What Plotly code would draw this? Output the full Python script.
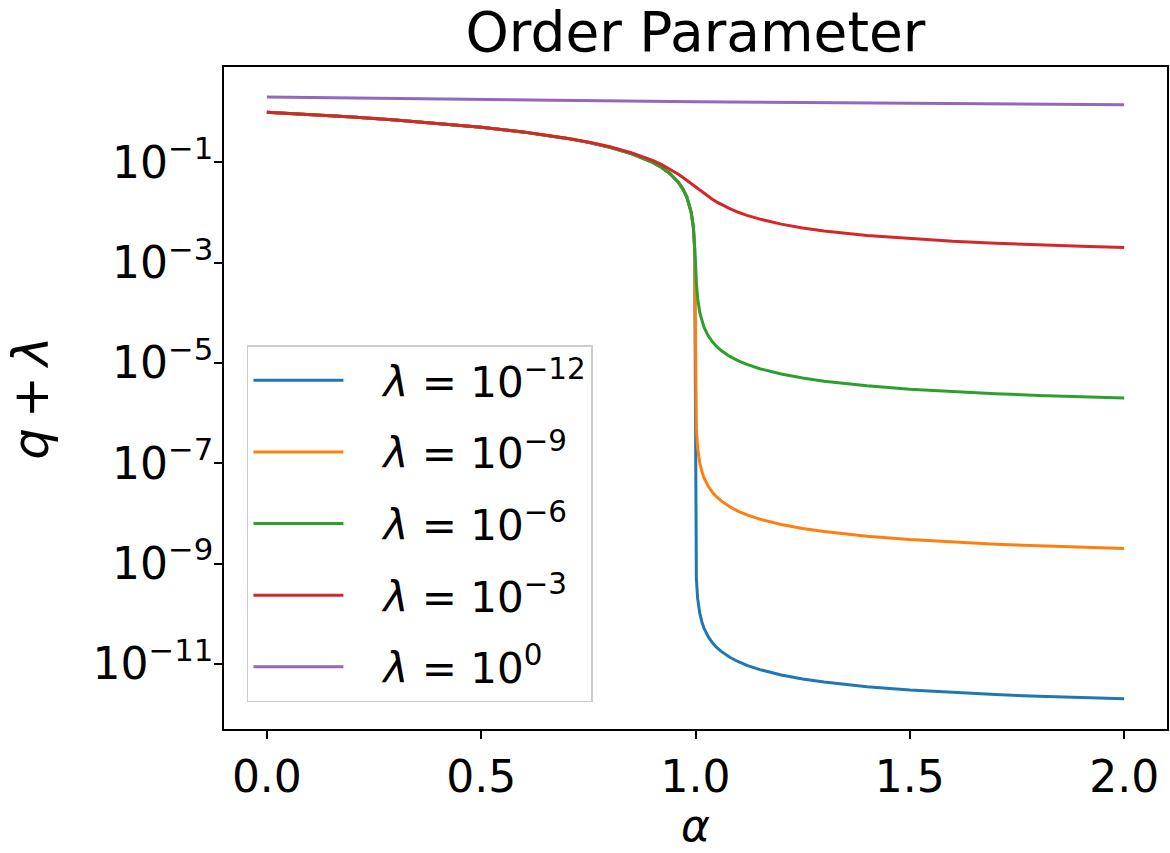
import plotly.graph_objects as go

# ---- data ----
alpha = [0, 0.1, 0.2, 0.3, 0.4, 0.5, 0.6, 0.7, 0.75, 0.8, 0.85, 0.9, 0.92, 0.94,
         0.96, 0.97, 0.98, 0.99, 0.995, 0.998, 1.0, 1.002, 1.005, 1.01, 1.015,
         1.02, 1.03, 1.04, 1.05, 1.06, 1.08, 1.1, 1.12, 1.15, 1.2, 1.25, 1.3,
         1.4, 1.5, 1.6, 1.7, 1.8, 1.9, 2.0]

q_lam_1e12 = [1.0, 0.9, 0.8, 0.7, 0.6, 0.5, 0.4, 0.3, 0.25, 0.2, 0.15, 0.1, 0.08, 0.06,
              0.04, 0.03, 0.02, 0.01, 0.005, 0.002, 1.0e-6, 5.01e-10, 2.01e-10, 1.01e-10, 6.77e-11,
              5.1e-11, 3.43e-11, 2.6e-11, 2.1e-11, 1.77e-11, 1.35e-11, 1.1e-11, 9.33e-12, 7.67e-12, 6.0e-12, 5.0e-12, 4.33e-12,
              3.5e-12, 3.0e-12, 2.67e-12, 2.43e-12, 2.25e-12, 2.11e-12, 2.0e-12]

q_lam_1e9 = [1.0, 0.9, 0.8, 0.7, 0.6, 0.5, 0.4, 0.3, 0.25, 0.2, 0.15, 0.1, 0.08, 0.06,
             0.04, 0.03, 0.02, 0.01, 0.005, 0.002, 3.16e-5, 5.01e-7, 2.01e-7, 1.01e-7, 6.77e-8,
             5.1e-8, 3.43e-8, 2.6e-8, 2.1e-8, 1.77e-8, 1.35e-8, 1.1e-8, 9.33e-9, 7.67e-9, 6.0e-9, 5.0e-9, 4.33e-9,
             3.5e-9, 3.0e-9, 2.67e-9, 2.43e-9, 2.25e-9, 2.11e-9, 2.0e-9]

q_lam_1e6 = [1.0, 0.9, 0.8, 0.7, 0.6, 0.5, 0.4, 0.3, 0.25, 0.2, 0.15, 0.1, 0.08, 0.06,
             0.04, 0.03, 0.02005, 0.0101, 0.00519, 0.00241, 1.0e-3, 4.15e-4, 1.935e-4, 1.0e-4, 6.74e-5,
             5.09e-5, 3.43e-5, 2.6e-5, 2.1e-5, 1.77e-5, 1.35e-5, 1.1e-5, 9.33e-6, 7.67e-6, 6.0e-6, 5.0e-6, 4.33e-6,
             3.5e-6, 3.0e-6, 2.67e-6, 2.43e-6, 2.25e-6, 2.11e-6, 2.0e-6]

q_lam_1e3 = [1.001, 0.9011, 0.8012, 0.7014, 0.6017, 0.502, 0.4025, 0.3033, 0.254, 0.2049, 0.1564, 0.1092, 0.0911, 0.0737,
             0.0577, 0.0503, 0.0435, 0.0374, 0.0347, 0.0331, 0.0321, 0.0312, 0.0298, 0.0276, 0.0256,
             0.0238, 0.0207, 0.0182, 0.0161, 0.0144, 0.0119, 0.0101, 0.00877, 0.00736, 0.00586, 0.00492, 0.00429,
             0.00348, 0.00299, 0.00266, 0.00243, 0.00225, 0.00211, 0.0020]

alpha_coarse = [0, 0.25, 0.5, 0.75, 1.0, 1.25, 1.5, 1.75, 2.0]
q_lam_1e0 = [2.0, 1.883, 1.781, 1.693, 1.618, 1.554, 1.5, 1.454, 1.414]

PAD = "\u00a0\u00a0\u2009"
series_names = [PAD + "<i>λ</i> = 10<sup>−12</sup>", PAD + "<i>λ</i> = 10<sup>−9</sup>",
                PAD + "<i>λ</i> = 10<sup>−6</sup>", PAD + "<i>λ</i> = 10<sup>−3</sup>",
                PAD + "<i>λ</i> = 10<sup>0</sup>"]
colors = ["#1f77b4", "#ff7f0e", "#2ca02c", "#d62728", "#9467bd"]

y_tickvals = [1e-1, 1e-3, 1e-5, 1e-7, 1e-9, 1e-11]
y_ticktext = ["10<sup>−1</sup>", "10<sup>−3</sup>", "10<sup>−5</sup>",
              "10<sup>−7</sup>", "10<sup>−9</sup>", "10<sup>−11</sup>"]
x_tickvals = [0.0, 0.5, 1.0, 1.5, 2.0]
x_ticktext = ["0.0", "0.5", "1.0", "1.5", "2.0"]

FONT = "DejaVu Sans"

fig = go.Figure()
xs = [alpha, alpha, alpha, alpha, alpha_coarse]
ys = [q_lam_1e12, q_lam_1e9, q_lam_1e6, q_lam_1e3, q_lam_1e0]
for i in range(5):
    fig.add_trace(go.Scatter(
        x=xs[i], y=ys[i], mode="lines", name=series_names[i],
        legendgroup=f"g{i}",
        line=dict(color=colors[i], width=3),
    ))

axis_common = dict(
    showline=True, linecolor="black", linewidth=1.5, mirror=True,
    ticks="outside", ticklen=8, tickwidth=1.5, tickcolor="black",
    showgrid=False, zeroline=False,
    tickfont=dict(family=FONT, size=44, color="black"),
)

fig.update_layout(
    width=1170, height=853,
    margin=dict(l=224, r=1, t=67, b=124),
    paper_bgcolor="white", plot_bgcolor="white",
    font=dict(family=FONT, color="black"),
    title=dict(text="Order Parameter", font=dict(family=FONT, size=55, color="black"),
               x=0.5, xref="paper", xanchor="center",
               y=1 - 32 / 853, yref="container", yanchor="middle"),
    xaxis=dict(range=[-0.1, 2.1], tickvals=x_tickvals, ticktext=x_ticktext,
               **axis_common),
    yaxis=dict(type="log", range=[-12.3, 0.901], tickvals=y_tickvals, ticktext=y_ticktext,
               ticklabelstandoff=-8,
               **axis_common),
    legend=dict(x=0.0243, y=0.580, xanchor="left", yanchor="top",
                bgcolor="rgba(255,255,255,0.8)", bordercolor="#cccccc", borderwidth=1.5,
                font=dict(family=FONT, size=42, color="black"),
                tracegroupgap=14, itemwidth=90, traceorder="grouped"),
    showlegend=True,
    annotations=[
        dict(text="<i>α</i>", xref="paper", yref="paper", x=0.5, y=-124 / 662,
             xanchor="center", yanchor="bottom", showarrow=False,
             font=dict(family=FONT, size=44, color="black")),
        dict(text="<i>q</i>\u2009+\u2009<i>λ</i>", xref="paper", yref="paper",
             x=-0.205, y=0.5, xanchor="center", yanchor="middle", textangle=-90,
             showarrow=False, font=dict(family=FONT, size=50, color="black")),
    ],
)

fig.write_html("out.html")
